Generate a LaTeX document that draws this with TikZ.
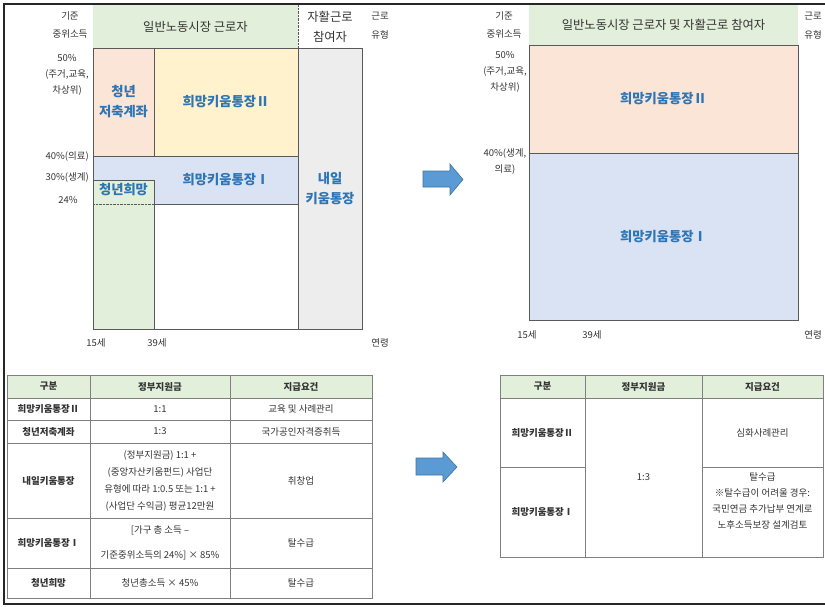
\documentclass[tikz,border=0pt]{standalone}
\usepackage{fontspec}
\setmainfont{Noto Sans CJK KR}
\definecolor{hdrgreen}{HTML}{E2EFDA}
\definecolor{peach}{HTML}{FBE5D6}
\definecolor{lyellow}{HTML}{FFF2CC}
\definecolor{lblue}{HTML}{DAE3F3}
\definecolor{lgray}{HTML}{EDEDED}
\definecolor{lgreen}{HTML}{E2EFDA}
\definecolor{txtblue}{HTML}{2E75B6}
\definecolor{edge}{HTML}{595959}
\definecolor{tedge}{HTML}{7F7F7F}
\definecolor{arrowblue}{HTML}{5B9BD5}
\definecolor{arrowedge}{HTML}{41719C}
\definecolor{txt}{HTML}{333333}
\begin{document}
\begin{tikzpicture}[x=1pt,y=-1pt,
  area/.style={draw=edge, line width=0.8pt, inner sep=0pt, outer sep=0pt, anchor=north west, align=center},
  big/.style={font=\fontsize{13.3pt}{20pt}\selectfont\bfseries, text=txtblue, align=center},
  side/.style={font=\fontsize{9.5pt}{16pt}\selectfont, text=txt, align=center, inner sep=0pt},
  hdr/.style={font=\fontsize{12.3pt}{20pt}\selectfont, text=txt, align=center},
  tcell/.style={draw=tedge, line width=0.7pt, inner sep=0pt, outer sep=0pt, anchor=north west, align=center, font=\fontsize{9.5pt}{17pt}\selectfont, text=txt},
  thead/.style={tcell, fill=hdrgreen, font=\fontsize{9.5pt}{17pt}\selectfont\bfseries},
  tname/.style={tcell, font=\fontsize{9.5pt}{17pt}\selectfont\bfseries},
  frameline/.style={line width=1.3pt, draw=black!85},
  bigarrow/.style={fill=arrowblue, draw=arrowedge, line width=0.6pt}
]
\useasboundingbox (0,0) rectangle (825,606);
% frame
\coordinate (fTL) at (4,4); \coordinate (fTR) at (825,4);
\coordinate (fBL) at (4,604); \coordinate (fBR) at (825,604);
\draw[frameline] (fTR) -- (fTL) -- (fBL) -- (fBR);

% ---------- left chart ----------
\node[area, draw=none, fill=hdrgreen, minimum width=205pt, minimum height=43pt, hdr] (hdrL) at (93,5) {일반노동시장 근로자};
\node[area, draw=none, minimum width=64pt, minimum height=43pt, hdr] (jah) at (298,5) {자활근로\\참여자};
\draw[densely dotted, edge] (hdrL.north east) -- (hdrL.south east);

\node[area, fill=lblue, minimum width=205pt, minimum height=48pt] (hope1) at (93,156) {};
\node[area, fill=peach, minimum width=61pt, minimum height=108pt, big] (sav) at (93,48) {청년\\저축계좌};
\node[area, fill=lyellow, minimum width=144pt, minimum height=108pt, big] (hope2) at (154,48) {희망키움통장Ⅱ};
\node[area, fill=lgreen, minimum width=61pt, minimum height=149pt] (yhope) at (93,180) {};
\node[big] (yhopeT) at (123.5,190) {청년희망};
\draw[densely dotted, edge] ([yshift=-24pt]yhope.north west) -- ([yshift=-24pt]yhope.north east);
\node[area, minimum width=144pt, minimum height=125pt] (blank) at (154,204) {};
\node[area, fill=lgray, minimum width=64pt, minimum height=281pt, big] (naeil) at (298,48) {내일\\키움통장};
\node[big] (hope1T) at (226,180) {희망키움통장Ⅰ};

\node[side, font=\fontsize{9.5pt}{18pt}\selectfont] (ylab) at (70,25) {기준\\중위소득};
\node[side] (p50) at (67,75) {50\%\\(주거,교육,\\차상위)};
\node[side, anchor=east] (p40) at (89,156) {40\%(의료)};
\node[side, anchor=east] (p30) at (89,177) {30\%(생계)};
\node[side] (p24) at (68,200) {24\%};
\node[side, font=\fontsize{9.5pt}{19pt}\selectfont] (typL) at (380,26) {근로\\유형};
\node[side] (a15) at (96,343) {15세};
\node[side] (a39) at (157,343) {39세};
\node[side] (ageL) at (380,343) {연령};

% ---------- right chart ----------
\node[area, draw=none, fill=hdrgreen, minimum width=269pt, minimum height=40pt, hdr] (hdrR) at (529,5) {일반노동시장 근로자 및 자활근로 참여자};
\node[area, fill=peach, minimum width=269pt, minimum height=108pt, big] (r2) at (529,45) {희망키움통장Ⅱ};
\node[area, fill=lblue, minimum width=269pt, minimum height=167pt, big] (r1) at (529,153) {희망키움통장Ⅰ};
\node[side, font=\fontsize{9.5pt}{18pt}\selectfont] (ylabR) at (504,25) {기준\\중위소득};
\node[side] (p50R) at (505,72) {50\%\\(주거,교육,\\차상위)};
\node[side] (p40R) at (505,161) {40\%(생계,\\의료)};
\node[side, font=\fontsize{9.5pt}{19pt}\selectfont] (typR) at (813,26) {근로\\유형};
\node[side] (a15R) at (527,335) {15세};
\node[side] (a39R) at (592,335) {39세};
\node[side] (ageR) at (813,335) {연령};

% ---------- arrows ----------
\filldraw[bigarrow] (423,171) -- (450,171) -- (450,164) -- (463,179.5) -- (450,195) -- (450,187) -- (423,187) -- cycle;
\filldraw[bigarrow] (416,458) -- (443,458) -- (443,452) -- (457,467) -- (443,482) -- (443,475) -- (416,475) -- cycle;

% ---------- left table ----------
\node[thead, minimum width=83pt, minimum height=23pt] (lh1) at (7,375) {구분};
\node[thead, minimum width=140pt, minimum height=23pt] (lh2) at (90,375) {정부지원금};
\node[thead, minimum width=142pt, minimum height=23pt] (lh3) at (230,375) {지급요건};

\node[tname, minimum width=83pt, minimum height=22pt] (la1) at (7,398) {희망키움통장Ⅱ};
\node[tcell, minimum width=140pt, minimum height=22pt] (lb1) at (90,398) {1:1};
\node[tcell, minimum width=142pt, minimum height=22pt] (lc1) at (230,398) {교육 및 사례관리};

\node[tname, minimum width=83pt, minimum height=23pt] (la2) at (7,420) {청년저축계좌};
\node[tcell, minimum width=140pt, minimum height=23pt] (lb2) at (90,420) {1:3};
\node[tcell, minimum width=142pt, minimum height=23pt] (lc2) at (230,420) {국가공인자격증취득};

\node[tname, minimum width=83pt, minimum height=75pt] (la3) at (7,443) {내일키움통장};
\node[tcell, minimum width=140pt, minimum height=75pt] (lb3) at (90,443) {(정부지원금) 1:1 +\\(중앙자산키움펀드) 사업단\\유형에 따라 1:0.5 또는 1:1 +\\(사업단 수익금) 평균12만원};
\node[tcell, minimum width=142pt, minimum height=75pt] (lc3) at (230,443) {취창업};

\node[tname, minimum width=83pt, minimum height=50pt] (la4) at (7,518) {희망키움통장Ⅰ};
\node[tcell, minimum width=140pt, minimum height=50pt, font=\fontsize{9.5pt}{25pt}\selectfont] (lb4) at (90,518) {[가구 총 소득 –\\기준중위소득의 24\%] × 85\%};
\node[tcell, minimum width=142pt, minimum height=50pt] (lc4) at (230,518) {탈수급};

\node[tname, minimum width=83pt, minimum height=30pt] (la5) at (7,568) {청년희망};
\node[tcell, minimum width=140pt, minimum height=30pt] (lb5) at (90,568) {청년총소득 × 45\%};
\node[tcell, minimum width=142pt, minimum height=30pt] (lc5) at (230,568) {탈수급};

% ---------- right table ----------
\node[thead, minimum width=85pt, minimum height=23pt] (rh1) at (500,375) {구분};
\node[thead, minimum width=117pt, minimum height=23pt] (rh2) at (585,375) {정부지원금};
\node[thead, minimum width=121pt, minimum height=23pt] (rh3) at (702,375) {지급요건};

\node[tname, minimum width=85pt, minimum height=69pt] (rn2) at (500,398) {희망키움통장Ⅱ};
\node[tname, minimum width=85pt, minimum height=90pt] (rn1) at (500,467) {희망키움통장Ⅰ};
\node[tcell, minimum width=117pt, minimum height=159pt] (rmid) at (585,398) {1:3};
\node[tcell, minimum width=121pt, minimum height=69pt] (rq2) at (702,398) {심화사례관리};
\node[tcell, minimum width=121pt, minimum height=90pt] (rq1) at (702,467) {};
\node[font=\fontsize{9.5pt}{16pt}\selectfont, text=txt, align=center, inner sep=0pt] (rq1T) at (762.5,501) {탈수급\\※탈수급이 어려울 경우:\\국민연금 추가납부 연계로\\노후소득보장 설계검토};
\end{tikzpicture}
\end{document}
